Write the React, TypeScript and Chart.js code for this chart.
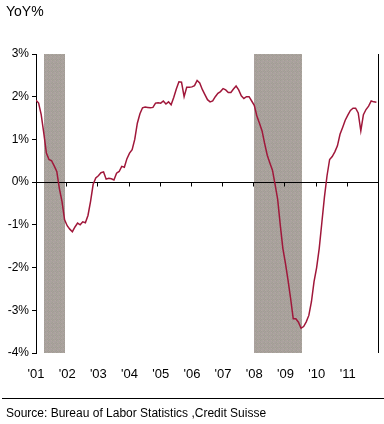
import React, { useEffect, useRef } from 'react';
import { Chart, registerables } from 'chart.js';

Chart.register(...registerables);

// ---- Data ----
const firstYear = 2001;
const yearLabels = ["'01", "'02", "'03", "'04", "'05", "'06", "'07", "'08", "'09", "'10", "'11"];
const yTickValues = [-4, -3, -2, -1, 0, 1, 2, 3];
// Monthly YoY %, Jan 2001 .. Dec 2011
const yoy2001 = [1.92, 1.85, 1.58, 1.15, 0.68, 0.53, 0.5, 0.38, 0.25, -0.15, -0.45, -0.88];
const yoy2002 = [-1.02, -1.1, -1.16, -1.05, -0.96, -1.0, -0.93, -0.95, -0.78, -0.45, -0.05, 0.1];
const yoy2003 = [0.15, 0.22, 0.24, 0.07, 0.09, 0.08, 0.05, 0.21, 0.25, 0.37, 0.35, 0.55];
const yoy2004 = [0.68, 0.76, 1.0, 1.38, 1.6, 1.74, 1.76, 1.75, 1.74, 1.75, 1.85, 1.86];
const yoy2005 = [1.85, 1.9, 1.83, 1.88, 1.81, 1.98, 2.18, 2.35, 2.34, 2.0, 2.22, 2.22];
const yoy2006 = [2.23, 2.26, 2.38, 2.32, 2.17, 2.05, 1.93, 1.88, 1.9, 2.0, 2.08, 2.12];
const yoy2007 = [2.19, 2.16, 2.1, 2.1, 2.18, 2.25, 2.16, 2.02, 1.96, 2.0, 2.0, 1.9];
const yoy2008 = [1.8, 1.55, 1.38, 1.2, 0.9, 0.63, 0.45, 0.28, -0.05, -0.4, -1.0, -1.55];
const yoy2009 = [-1.9, -2.3, -2.73, -3.2, -3.2, -3.28, -3.42, -3.38, -3.27, -3.12, -2.8, -2.33];
const yoy2010 = [-2.0, -1.55, -0.95, -0.35, 0.15, 0.53, 0.6, 0.71, 0.85, 1.12, 1.28, 1.45];
const yoy2011 = [1.57, 1.68, 1.73, 1.73, 1.62, 1.2, 1.58, 1.7, 1.78, 1.9, 1.88, 1.87];
const yoyValues = [
  ...yoy2001, ...yoy2002, ...yoy2003, ...yoy2004, ...yoy2005, ...yoy2006,
  ...yoy2007, ...yoy2008, ...yoy2009, ...yoy2010, ...yoy2011,
];
// Recessions, in months since Jan 2001
const recessionStarts = [3.2, 83.8];
const recessionEnds = [11.2, 102.2];

const titleText = 'YoY%';
const sourceText = 'Source: Bureau of Labor Statistics ,Credit Suisse';

const LINE_COLOR = '#a0173a';
const FONT = "'Liberation Sans', Arial, sans-serif";
const NARROW = "'Liberation Sans Narrow', 'Arial Narrow', 'Liberation Sans', Arial, sans-serif";
const MONTHS_TOTAL = yearLabels.length * 12;

function makeBandPattern(ctx: CanvasRenderingContext2D) {
  const c = document.createElement('canvas');
  c.width = 4;
  c.height = 4;
  const p = c.getContext('2d')!;
  const tones = ['#a29c95', '#b1a9a1', '#aaa19e', '#a6a59a'];
  for (let i = 0; i < 4; i++) {
    for (let j = 0; j < 4; j++) {
      p.fillStyle = tones[(i * 3 + j * 2 + i * j) % 4];
      p.fillRect(i, j, 1, 1);
    }
  }
  return ctx.createPattern(c, 'repeat') || '#a8a199';
}

const decorPlugin = {
  id: 'decor',
  beforeDatasetsDraw(chart: any) {
    const { ctx, chartArea: a, scales } = chart;
    const x = scales.x;
    const y = scales.y;
    ctx.save();
    ctx.fillStyle = makeBandPattern(ctx);
    for (let i = 0; i < recessionStarts.length; i++) {
      const x0 = Math.round(x.getPixelForValue(recessionStarts[i]));
      const x1 = Math.round(x.getPixelForValue(recessionEnds[i]));
      ctx.fillRect(x0, a.top, x1 - x0, a.bottom - a.top);
    }
    ctx.strokeStyle = '#000';
    ctx.lineWidth = 1;
    ctx.beginPath();
    const y0 = Math.round(y.getPixelForValue(0)) + 0.5;
    ctx.moveTo(a.left, y0);
    ctx.lineTo(a.right, y0);
    x.ticks.forEach((t: any) => {
      if (t.value > 0) {
        const px = Math.round(x.getPixelForValue(t.value)) - 0.5;
        ctx.moveTo(px, y0);
        ctx.lineTo(px, y0 + 4);
      }
    });
    const rx = Math.round(a.right) - 0.5;
    ctx.moveTo(rx, a.top);
    ctx.lineTo(rx, a.bottom);
    ctx.stroke();
    ctx.restore();
  },
  afterDraw(chart: any) {
    const { ctx } = chart;
    ctx.save();
    ctx.fillStyle = '#000';
    ctx.textAlign = 'left';
    ctx.textBaseline = 'alphabetic';
    ctx.font = `14px ${FONT}`;
    ctx.fillText(titleText, 6, 16);
    ctx.font = `12px ${FONT}`;
    ctx.fillText(sourceText, 6, 417);
    ctx.strokeStyle = '#000';
    ctx.lineWidth = 1;
    ctx.beginPath();
    ctx.moveTo(2, 398.5);
    ctx.lineTo(384, 398.5);
    ctx.stroke();
    ctx.restore();
  },
};

export default function App() {
  const canvasRef = useRef<HTMLCanvasElement | null>(null);

  useEffect(() => {
    const canvas = canvasRef.current;
    if (!canvas) return;
    const points = yoyValues.map((v, i) => ({ x: i, y: v }));
    const chart = new Chart(canvas, {
      type: 'line',
      data: {
        datasets: [
          {
            data: points,
            borderColor: LINE_COLOR,
            borderWidth: 1.5,
            pointRadius: 0,
            tension: 0,
            fill: false,
          },
        ],
      },
      options: {
        responsive: false,
        animation: false,
        devicePixelRatio: 1,
        layout: { padding: { top: 54, right: 5, bottom: 41, left: 0 } },
        plugins: {
          legend: { display: false },
          tooltip: { enabled: false },
          title: { display: false },
        },
        scales: {
          x: {
            type: 'linear',
            position: 'bottom',
            min: 0,
            max: MONTHS_TOTAL,
            afterBuildTicks: (scale: any) => {
              const ticks = [];
              for (let i = 0; i <= yearLabels.length; i++) ticks.push({ value: i * 12 });
              scale.ticks = ticks;
            },
            afterFit: (scale: any) => {
              scale.height = 30;
              scale.paddingLeft = 0;
              scale.paddingRight = 0;
            },
            grid: { display: false, drawTicks: false },
            border: { display: false },
            ticks: {
              autoSkip: false,
              maxRotation: 0,
              padding: 14,
              color: '#000',
              font: { family: NARROW, size: 13 },
              callback: (v: any) => {
                const idx = Math.round(Number(v) / 12);
                return idx < yearLabels.length ? yearLabels[idx] : '';
              },
            },
          },
          y: {
            type: 'linear',
            position: 'left',
            min: yTickValues[0],
            max: yTickValues[yTickValues.length - 1],
            afterBuildTicks: (scale: any) => {
              scale.ticks = yTickValues.map((v) => ({ value: v }));
            },
            afterFit: (scale: any) => {
              scale.width = 36;
              scale.paddingTop = 0;
              scale.paddingBottom = 0;
            },
            grid: {
              drawOnChartArea: false,
              drawTicks: true,
              tickLength: 4,
              color: '#000',
              lineWidth: 1,
            },
            border: { display: true, color: '#000', width: 1 },
            ticks: {
              padding: 3,
              color: '#000',
              font: { family: FONT, size: 12 },
              callback: (v: any) => `${v}%`,
            },
          },
        },
      },
      plugins: [decorPlugin],
    });
    return () => chart.destroy();
  }, []);

  return (
    <div style={{ position: 'absolute', left: 0, top: 0, width: 384, height: 424, background: '#fff' }}>
      <canvas ref={canvasRef} width={384} height={424} />
    </div>
  );
}
